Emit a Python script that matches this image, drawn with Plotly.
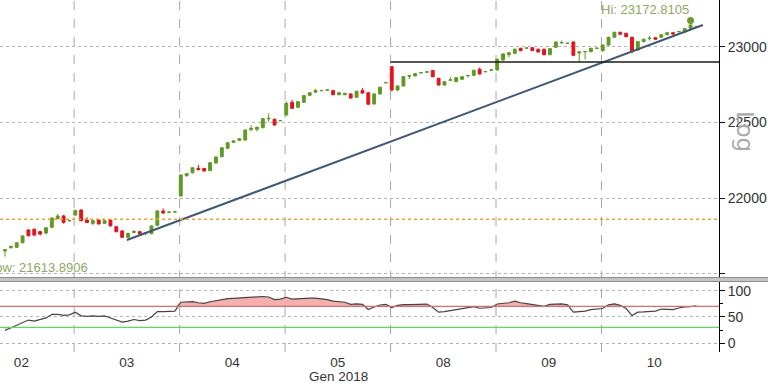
import plotly.graph_objects as go

# ---------------- data ----------------
day_labels = ["02", "03", "04", "05", "08", "09", "10"]
day_start_bar = [-5, 13, 31, 49, 67, 85, 103]
bars_per_day = 18
axis_title = "Gen 2018"

opens = [21652, 21673, 21676, 21706, 21790, 21795, 21779, 21770, 21808, 21866, 21883, 21850,
         21889, 21922, 21856, 21834, 21856, 21834, 21856, 21812, 21784, 21742, 21774, 21779, 21770, 21766, 21821, 21916, 21906, 21909,
         22015, 22148, 22168, 22197, 22196, 22182, 22232, 22274, 22329, 22369, 22382, 22384, 22453, 22455, 22465, 22524, 22521, 22511,
         22549, 22633, 22600, 22633, 22679, 22699, 22709, 22713, 22710, 22683, 22683, 22688, 22666, 22710, 22696, 22622, 22688, 22761,
         22868, 22714, 22741, 22805, 22807, 22827, 22832, 22842, 22791, 22747, 22778, 22769, 22785, 22808, 22811, 22851, 22834, 22845,
         22846, 22912, 22947, 22956, 22989, 22990, 22993, 22983, 22983, 22947, 22996, 23025, 23021, 23031, 22958, 22966, 22967, 22988,
         22974, 23011, 23062, 23095, 23088, 23062, 22978, 23033, 23054, 23059, 23062, 23079, 23092, 23098, 23097, 23121, 23131]
highs = [21665, 21688, 21710, 21755, 21795, 21800, 21785, 21810, 21875, 21895, 21888, 21858,
         21925, 21928, 21875, 21856, 21860, 21856, 21860, 21815, 21788, 21772, 21790, 21782, 21778, 21820, 21920, 21933, 21915, 21912,
         22158, 22166, 22205, 22220, 22200, 22238, 22276, 22337, 22370, 22382, 22397, 22454, 22482, 22473, 22530, 22560, 22525, 22515,
         22640, 22650, 22641, 22681, 22700, 22722, 22714, 22718, 22714, 22700, 22696, 22692, 22710, 22728, 22700, 22692, 22736, 22766,
         22872, 22745, 22806, 22812, 22826, 22832, 22837, 22846, 22795, 22773, 22800, 22799, 22806, 22814, 22848, 22862, 22839, 22850,
         22921, 22956, 22964, 22987, 22993, 22996, 22997, 22987, 22987, 22991, 23035, 23040, 23026, 23035, 22970, 22972, 22993, 22993,
         23015, 23066, 23099, 23099, 23092, 23066, 23037, 23053, 23070, 23063, 23083, 23096, 23096, 23103, 23123, 23172.8105, 23136]
lows = [21613.8906, 21668, 21672, 21702, 21748, 21752, 21755, 21762, 21805, 21860, 21832, 21846,
        21885, 21848, 21836, 21822, 21826, 21830, 21814, 21776, 21738, 21736, 21770, 21760, 21755, 21762, 21818, 21898, 21900, 21906,
        22010, 22143, 22164, 22184, 22176, 22178, 22228, 22270, 22325, 22364, 22378, 22380, 22440, 22440, 22462, 22503, 22479, 22509,
        22545, 22588, 22596, 22629, 22675, 22696, 22706, 22710, 22680, 22680, 22680, 22657, 22662, 22690, 22615, 22618, 22684, 22758,
        22705, 22705, 22737, 22785, 22803, 22824, 22829, 22798, 22743, 22743, 22775, 22765, 22781, 22795, 22807, 22816, 22831, 22842,
        22842, 22908, 22930, 22952, 22970, 22987, 22970, 22961, 22943, 22943, 22992, 23020, 23018, 22938, 22901, 22915, 22963, 22985,
        22965, 23007, 23058, 23078, 23062, 22955, 22974, 23029, 23040, 23045, 23058, 23075, 23078, 23095, 23093, 23117, 23128]
closes = [21660, 21682, 21706, 21751, 21752, 21757, 21763, 21805, 21869, 21883, 21840, 21853,
          21918, 21852, 21840, 21852, 21830, 21852, 21817, 21779, 21742, 21768, 21780, 21764, 21773, 21817, 21916, 21902, 21908, 21910,
          22153, 22162, 22201, 22188, 22180, 22234, 22272, 22333, 22366, 22378, 22393, 22450, 22461, 22468, 22525, 22527, 22483, 22513,
          22626, 22593, 22637, 22677, 22696, 22710, 22711, 22715, 22683, 22696, 22692, 22661, 22706, 22694, 22620, 22688, 22732, 22763,
          22714, 22741, 22802, 22808, 22822, 22829, 22834, 22802, 22747, 22769, 22781, 22795, 22802, 22810, 22844, 22820, 22836, 22847,
          22917, 22952, 22960, 22983, 22974, 22992, 22974, 22965, 22947, 22987, 23031, 23027, 23023, 22943, 22965, 22968, 22989, 22990,
          23011, 23062, 23095, 23082, 23066, 22967, 23033, 23049, 23056, 23049, 23079, 23092, 23084, 23100, 23119, 23143, 23133]
rsi = [24, 29, 35, 40, 44, 42, 45, 48, 55, 55, 53, 54,
       59, 52, 51, 52, 51, 52, 48, 44, 40, 42, 45, 43, 44, 50, 60, 60, 61, 61,
       78, 78, 79, 77, 76, 79, 81, 84, 85, 85.5, 86, 87, 87.5, 88, 89, 88, 83, 84,
       87.5, 84, 85, 85.5, 86, 86, 85, 83, 80, 79.5, 78, 74, 75, 74, 64, 69, 72.7, 74,
       68, 72, 73.5, 73.5, 73.5, 74, 74.5, 68, 59, 60, 62, 64, 66, 68, 69.6, 66.5, 67, 68,
       74.6, 76, 77, 80, 77, 75.5, 73.5, 72, 70, 74, 75, 75, 73, 59, 60, 61, 64, 64.5,
       66, 73, 75, 72, 66, 52.5, 59, 59.5, 60, 61, 65, 64.5, 64, 67, 69, 69.5, 71]
bars = list(range(1, len(closes) + 1))

support_level = 21861          # orange dotted
resistance_level = 22899       # black level line
resistance_start_bar = 67
trend_bars = [21.8, 120.1]
trend_values = [21724, 23143]
rsi_upper, rsi_lower = 70, 30
price_ticks = [21500, 22000, 22500, 23000]
rsi_ticks = [0, 50, 100]

# ---------------- styling ----------------
FONT = "Liberation Sans, Arial, sans-serif"
GREEN = "#5f9a22"
RED = "#e3141b"
LABEL_GREEN = "#8fa860"
W, H = 768, 384
ML, MR, MT, MB = 0, 49, 0, 32
PW, PH = W - ML - MR, H - MT - MB
XR = [0.15, 122.85]

def py(px):  # pixel row -> paper y
    return (PH - (px - MT)) / PH

fig = go.Figure()

fig.add_trace(go.Candlestick(
    x=bars, open=opens, high=highs, low=lows, close=closes,
    increasing=dict(line=dict(color=GREEN, width=1), fillcolor=GREEN),
    decreasing=dict(line=dict(color=RED, width=1), fillcolor=RED),
    whiskerwidth=0, xaxis="x", yaxis="y", showlegend=False, hoverinfo="skip"))

fig.add_trace(go.Scatter(x=trend_bars, y=trend_values, mode="lines",
                         line=dict(color="#3d5877", width=2), xaxis="x", yaxis="y",
                         showlegend=False, hoverinfo="skip"))

hi_idx = highs.index(max(highs))
lo_idx = lows.index(min(lows))
fig.add_trace(go.Scatter(x=[bars[hi_idx]], y=[highs[hi_idx]], mode="markers",
                         marker=dict(color="#6a9a2c", size=7), xaxis="x", yaxis="y",
                         showlegend=False, hoverinfo="skip"))

# RSI fills
upper_base = [rsi_upper] * len(rsi)
upper_fill = [max(v, rsi_upper) for v in rsi]
lower_base = [rsi_lower] * len(rsi)
lower_fill = [min(v, rsi_lower) for v in rsi]
fig.add_trace(go.Scatter(x=bars, y=upper_base, mode="lines", line=dict(width=0),
                         xaxis="x2", yaxis="y2", showlegend=False, hoverinfo="skip"))
fig.add_trace(go.Scatter(x=bars, y=upper_fill, mode="lines", line=dict(width=0),
                         fill="tonexty", fillcolor="rgba(242,140,140,0.7)",
                         xaxis="x2", yaxis="y2", showlegend=False, hoverinfo="skip"))
fig.add_trace(go.Scatter(x=bars, y=lower_base, mode="lines", line=dict(width=0),
                         xaxis="x2", yaxis="y2", showlegend=False, hoverinfo="skip"))
fig.add_trace(go.Scatter(x=bars, y=lower_fill, mode="lines", line=dict(width=0),
                         fill="tonexty", fillcolor="rgba(150,230,150,0.8)",
                         xaxis="x2", yaxis="y2", showlegend=False, hoverinfo="skip"))
fig.add_trace(go.Scatter(x=bars, y=rsi, mode="lines", line=dict(color="#444444", width=1.2),
                         xaxis="x2", yaxis="y2", showlegend=False, hoverinfo="skip"))

shapes = []
# day dividers
for s in day_start_bar[1:]:
    shapes.append(dict(type="line", xref="x", yref="paper", x0=s - 0.2, x1=s - 0.2, y0=0, y1=1,
                       line=dict(color="#a6a6a6", width=1, dash="dash"), layer="below"))
# support / resistance
shapes.append(dict(type="line", xref="paper", yref="y", x0=0, x1=1, y0=support_level, y1=support_level,
                   line=dict(color="#f0a22e", width=1.3, dash="dot")))
shapes.append(dict(type="line", xref="x", yref="y", x0=resistance_start_bar - 0.2, x1=XR[1],
                   y0=resistance_level, y1=resistance_level, line=dict(color="#1a1a1a", width=1.6)))
# RSI bands
shapes.append(dict(type="line", xref="paper", yref="y2", x0=0, x1=1, y0=rsi_upper, y1=rsi_upper,
                   line=dict(color="#e46a6a", width=1.2)))
shapes.append(dict(type="line", xref="paper", yref="y2", x0=0, x1=1, y0=rsi_lower, y1=rsi_lower,
                   line=dict(color="#5fd85f", width=1.2)))
# panel separator
shapes.append(dict(type="rect", xref="paper", yref="paper", x0=-0.01, x1=W / PW + 0.01,
                   y0=py(281.5), y1=py(277.5), fillcolor="#c4c4c4",
                   line=dict(color="#8c8c8c", width=1), layer="above"))

annotations = [
    dict(xref="x", yref="y", x=bars[hi_idx], y=highs[hi_idx], text=f"Hi: {highs[hi_idx]:.4f}",
         xanchor="right", yanchor="bottom", yshift=1, showarrow=False,
         font=dict(family=FONT, size=13, color=LABEL_GREEN)),
    dict(xref="paper", yref="y", x=90 / PW, y=lows[lo_idx], text=f"Low: {lows[lo_idx]:.4f}",
         xanchor="right", yanchor="top", yshift=-1, showarrow=False,
         font=dict(family=FONT, size=13, color=LABEL_GREEN)),
    dict(xref="paper", yref="paper", x=338 / PW, y=py(376), text=axis_title,
         xanchor="center", yanchor="middle", showarrow=False,
         font=dict(family=FONT, size=13.5, color="#333333")),
    dict(xref="paper", yref="paper", x=745 / PW, y=py(131), text="Log", textangle=90,
         xanchor="center", yanchor="middle", showarrow=False,
         font=dict(family="DejaVu Sans, sans-serif", size=23, color="#a9a9a9")),
]

day_centers = [s - 0.2 + bars_per_day / 2 for s in day_start_bar]

fig.update_layout(
    width=W, height=H, margin=dict(l=ML, r=MR, t=MT, b=MB),
    paper_bgcolor="white", plot_bgcolor="white", showlegend=False,
    font=dict(family=FONT, color="#333333"),
    xaxis=dict(domain=[0, 1], anchor="y", range=XR, showticklabels=False, showgrid=False,
               zeroline=False, rangeslider=dict(visible=False), showline=False, ticks=""),
    yaxis=dict(domain=[py(277), 1], anchor="x", side="right", range=[21480, 23308],
               tickvals=price_ticks, ticktext=["" if v == price_ticks[0] else str(v) for v in price_ticks],
               showgrid=True, gridcolor="#b4b4b4", griddash="dot", gridwidth=1, zeroline=False,
               showline=True, linecolor="#000000", linewidth=1, ticks="outside", ticklen=5,
               tickcolor="#000000", tickfont=dict(size=14, color="#333333", family=FONT),
               automargin=False),
    xaxis2=dict(domain=[0, 1], anchor="y2", matches="x", range=XR, tickvals=day_centers,
                ticktext=day_labels, showgrid=False, zeroline=False, showline=False, ticks="",
                ticklen=0, tickfont=dict(size=13.5, color="#333333", family=FONT), automargin=False),
    yaxis2=dict(domain=[0, py(281.5)], anchor="x2", side="right", range=[-17, 117.6],
                tickvals=rsi_ticks, showgrid=True, gridcolor="#a9b6c2", griddash="dot", zeroline=False,
                showline=True, linecolor="#000000", linewidth=1, ticks="outside", ticklen=5,
                tickcolor="#000000", tickfont=dict(size=14, color="#333333", family=FONT),
                minor=dict(tickvals=[25, 75], ticks="outside", ticklen=3, tickcolor="#000000"),
                automargin=False),
    shapes=shapes, annotations=annotations,
)

fig.write_html("out.html", config={"displayModeBar": False, "staticPlot": True},
               post_script="document.body.style.margin='0';document.body.style.overflow='hidden';")
